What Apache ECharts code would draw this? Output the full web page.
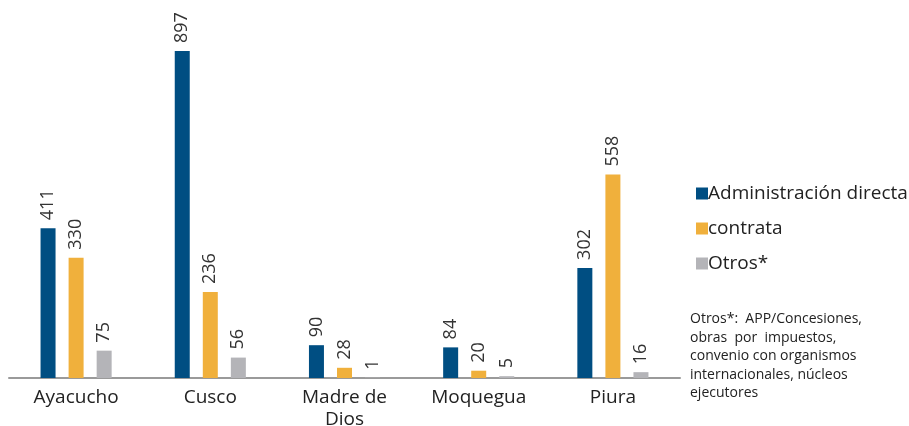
<!DOCTYPE html>
<html>
<head>
<meta charset="utf-8">
<script src="https://cdn.jsdelivr.net/npm/echarts@6/dist/echarts.min.js"></script>
<style>html,body{margin:0;padding:0;background:#fff;}#c{width:909px;height:426px;}</style>
</head>
<body>
<div id="c"></div>
<script>
const categories = ['Ayacucho', 'Cusco', 'Madre de\nDios', 'Moquegua', 'Piura'];
const seriesNames = ['Administración directa', 'contrata', 'Otros*'];
const adminDirecta = [411, 897, 90, 84, 302];
const contrata = [330, 236, 28, 20, 558];
const otros = [75, 56, 1, 5, 16];
const noteLines = ['Otros*:  APP/Concesiones,', 'obras  por  impuestos,', 'convenio con organismos', 'internacionales, núcleos', 'ejecutores'];

const colors = ['#004e82', '#f0b03c', '#b4b4b8'];
const font = '"Open Sans", "Noto Sans", sans-serif';
const chart = echarts.init(document.getElementById('c'));
const label = {
  show: true, position: 'top', rotate: 90, distance: 8,
  align: 'left', verticalAlign: 'middle',
  fontSize: 18, color: '#333', fontFamily: font
};
const mk = (name, data, i) => ({
  name, type: 'bar', data, barWidth: 15, barGap: '87%',
  itemStyle: { color: colors[i] }, label
});
chart.setOption({
  animation: false,
  grid: { left: 9, right: 229, top: 51, bottom: 48, containLabel: false, outerBoundsMode: 'none' },
  xAxis: {
    type: 'category', data: categories,
    axisLine: { lineStyle: { color: '#9a9a9a', width: 2 } },
    axisTick: { show: false },
    axisLabel: { fontSize: 19, color: '#222', fontFamily: font, margin: 9, lineHeight: 22, interval: 0 }
  },
  yAxis: { type: 'value', min: 0, max: 897, show: false, splitLine: { show: false } },
  legend: {
    orient: 'vertical', left: 691, top: 179, itemGap: 16,
    itemWidth: 12, itemHeight: 12, icon: 'rect',
    textStyle: { fontSize: 19, color: '#222', fontFamily: font, padding: [0, 0, 0, -5] },
    data: seriesNames
  },
  graphic: [{
    type: 'text', left: 690, top: 310,
    style: { text: noteLines.join('\n'), fontSize: 14, lineHeight: 18.5, fill: '#222', fontFamily: font }
  }],
  series: [mk(seriesNames[0], adminDirecta, 0), mk(seriesNames[1], contrata, 1), mk(seriesNames[2], otros, 2)]
});
</script>
</body>
</html>
